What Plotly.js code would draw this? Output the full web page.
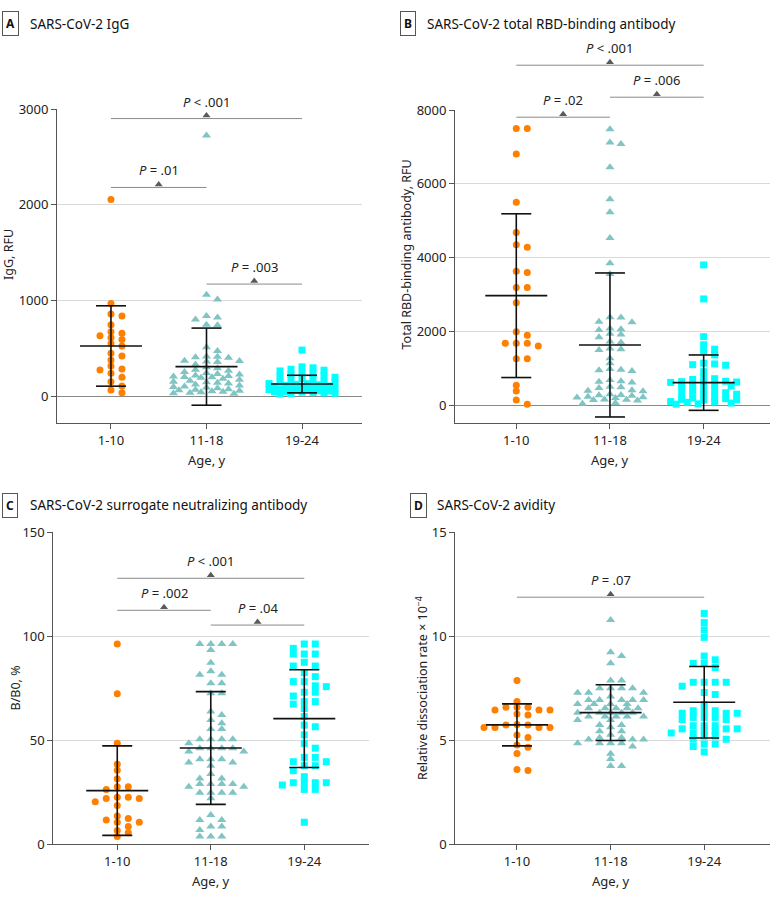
<!DOCTYPE html>
<html>
<head>
<meta charset="utf-8">
<script src="https://cdn.plot.ly/plotly-3.0.1.min.js"></script>
<style>html, body { margin: 0; padding: 0; background: #fff; }</style>
</head>
<body>
<div id="myDiv" style="width:783px;height:900px;"></div>
<script>
const W = 783, H = 900;
const groups = ['1-10', '11-18', '19-24'];

// A: SARS-CoV-2 IgG, RFU
const iggAge1to10 = [2055, 968, 857, 836, 745, 672, 655, 630, 610, 592, 550, 522, 446, 418, 376, 313, 282, 272, 237, 195, 150, 105, 63, 35];
const iggAge11to18 = [2724, 1059, 1010, 836, 820, 801, 745, 740, 509, 470, 413, 410, 405, 400, 369, 365, 360, 355, 330, 300, 290, 275, 265, 250, 240, 230, 225, 215, 210, 205, 200, 195, 190, 180, 170, 160, 150, 145, 140, 130, 120, 110, 100, 95, 90, 80, 70, 65, 60, 55, 50, 45, 40, 35, 30, 25];
const iggAge19to24 = [480, 305, 295, 280, 270, 262, 240, 232, 225, 214, 205, 196, 180, 172, 160, 150, 146, 138, 130, 128, 122, 118, 110, 104, 100, 96, 90, 86, 80, 78, 72, 68, 64, 60, 56, 52, 48, 44, 40, 36, 32, 28, 24, 20];
const iggMean = [523, 307, 125];
const iggSD = [420, 403, 92];
const iggPairs = [[0, 1], [0, 2], [1, 2]];
const iggPLevel = [2180, 2900, 1170];
const iggPText = ['= .01', '< .001', '= .003'];

// B: total RBD-binding antibody, RFU
const rbdAge1to10 = [7496, 7496, 6810, 5501, 4678, 4352, 4282, 3631, 3600, 3188, 3188, 2781, 1995, 1897, 1680, 1680, 1680, 1607, 1263, 1263, 542, 388, 144, 27];
const rbdAge11to18 = [7480, 7117, 7080, 6450, 5582, 5230, 4534, 3848, 3558, 2385, 2380, 2266, 2250, 2080, 2060, 2040, 1940, 1920, 1843, 1730, 1700, 1540, 1520, 1500, 1274, 1138, 980, 960, 950, 930, 686, 650, 640, 620, 500, 490, 470, 410, 396, 380, 300, 280, 270, 260, 230, 220, 210, 200, 160, 150, 140, 130, 60, 40];
const rbdAge19to24 = [3802, 2881, 1860, 1640, 1520, 1480, 1363, 1140, 1120, 1100, 1085, 911, 740, 720, 700, 650, 640, 630, 620, 600, 560, 540, 520, 500, 420, 400, 380, 340, 320, 300, 280, 220, 200, 180, 160, 150, 140, 100, 90, 80, 60, 40, 30];
const rbdMean = [2970, 1634, 613];
const rbdSD = [2218, 1951, 750];
const rbdPairs = [[0, 1], [1, 2], [0, 2]];
const rbdPLevel = [7805, 8347, 9214];
const rbdPText = ['= .02', '= .006', '< .001'];

// C: surrogate neutralizing antibody, B/B0 %
const snabAge1to10 = [96.3, 72.4, 48.6, 38.5, 35.6, 31.5, 27.7, 27.7, 26.4, 22.6, 22.6, 22, 22, 20.4, 18.6, 13.6, 12.4, 11.7, 10.6, 10.6, 8.5, 6.6, 5.6, 3.7];
const snabAge11to18 = [96.3, 96.3, 96.3, 96.3, 93.4, 87.3, 83.2, 81.5, 81.5, 77.4, 77.4, 72.6, 72.6, 63.8, 62.2, 59.8, 58.2, 55.4, 55.4, 50.5, 50.5, 50.5, 50.5, 48.6, 46.2, 46.2, 46.2, 46.2, 44.6, 44.6, 40.9, 40.9, 40.9, 39.3, 39.3, 37.8, 33.8, 31.6, 31.6, 29, 29, 29, 29, 27.7, 27.7, 24.8, 24.8, 24.8, 24.8, 22.1, 14.1, 11.7, 11.7, 8.5, 8.5, 6.9, 3.7, 3.7, 3.7];
const snabAge19to24 = [96.3, 96.3, 94.2, 91.5, 91.5, 91.5, 87.5, 85.7, 85.7, 82.5, 80.6, 78.2, 78.2, 76.2, 75.8, 73.1, 73.1, 71.3, 68.6, 68.6, 67.4, 65.3, 61.4, 57.3, 56.5, 52.6, 48.5, 46.2, 41.8, 41.8, 39.7, 39.7, 37.8, 37.8, 35.4, 32.5, 29.6, 29.6, 29.6, 29.6, 28.5, 26.4, 26.4, 10.6];
const snabMean = [25.8, 46.3, 60.4];
const snabSD = [21.5, 27.1, 23.5];
const snabPairs = [[0, 2], [0, 1], [1, 2]];
const snabPLevel = [127.9, 112.5, 105.4];
const snabPText = ['< .001', '= .002', '= .04'];

// D: avidity, relative dissociation rate x 10^-4
const avidAge1to10 = [7.87, 6.86, 6.59, 6.59, 6.59, 6.46, 6.46, 6.46, 6.26, 6.22, 5.76, 5.74, 5.74, 5.61, 5.61, 5.61, 5.61, 5.25, 5.14, 4.77, 4.66, 4.37, 3.6, 3.55];
const avidAge11to18 = [10.78, 9.23, 9.05, 8.7, 7.87, 7.87, 7.5, 7.5, 7.5, 7.5, 7.29, 7.29, 7.29, 7.1, 6.94, 6.94, 6.94, 6.94, 6.94, 6.75, 6.75, 6.75, 6.75, 6.54, 6.54, 6.54, 6.54, 6.54, 6.33, 6.33, 6.33, 6.33, 6.33, 6.14, 6.14, 6.14, 6.14, 6.14, 5.98, 5.98, 5.74, 5.74, 5.63, 5.43, 5.43, 5.27, 5.12, 5.12, 5.04, 5.04, 5.04, 4.86, 4.86, 4.86, 4.86, 4.7, 4.35, 4.1, 3.77, 3.77];
const avidAge19to24 = [11.1, 10.66, 10.31, 9.95, 9.05, 8.87, 8.7, 8.7, 8.5, 7.79, 7.79, 7.79, 7.79, 7.6, 7.3, 7.2, 6.72, 6.42, 6.42, 6.42, 6.3, 6.3, 6.3, 6.1, 6.1, 6.1, 6.0, 6.0, 5.7, 5.7, 5.7, 5.55, 5.55, 5.55, 5.45, 5.45, 5.35, 5.35, 5.2, 5.2, 5.05, 5.05, 4.82, 4.82, 4.7, 4.44];
const avidMean = [5.74, 6.33, 6.83];
const avidSD = [1.01, 1.34, 1.72];
const avidPairs = [[0, 2]];
const avidPLevel = [11.88];
const avidPText = ['= .07'];

const FONT = 'Noto Sans, DejaVu Sans, sans-serif';
const markerStyles = [
  { symbol: 'circle', color: '#FF7F00', size: 7 },
  { symbol: 'triangle-up', color: '#80C4C4', size: 8 },
  { symbol: 'square', color: '#00FFFF', size: 7 },
];

// panel layout (pixel boxes of the plot areas)
const panels = [
  { letter: 'A', title: 'SARS-CoV-2 IgG', ytitle: 'IgG, RFU',
    series: [iggAge1to10, iggAge11to18, iggAge19to24], mean: iggMean, sd: iggSD,
    pairs: iggPairs, pLevel: iggPLevel, pText: iggPText,
    box: [57, 362, 109, 423], xr: [-0.565, 2.628], yr: [-282, 3000], dtick: 1000, zero: true,
    letterX: 10, titleX: 28, titleY: 24, ytX: 8, ytY: 255, xtY: 460 },
  { letter: 'B', title: 'SARS-CoV-2 total RBD-binding antibody', ytitle: 'Total RBD-binding antibody, RFU',
    series: [rbdAge1to10, rbdAge11to18, rbdAge19to24], mean: rbdMean, sd: rbdSD,
    pairs: rbdPairs, pLevel: rbdPLevel, pText: rbdPText,
    box: [455, 770, 110, 423], xr: [-0.654, 2.708], yr: [-480, 8000], dtick: 2000, zero: true,
    letterX: 407.5, titleX: 425, titleY: 24, ytX: 405.5, ytY: 255, xtY: 460 },
  { letter: 'C', title: 'SARS-CoV-2 surrogate neutralizing antibody', ytitle: 'B/B0, %',
    series: [snabAge1to10, snabAge11to18, snabAge19to24], mean: snabMean, sd: snabSD,
    pairs: snabPairs, pLevel: snabPLevel, pText: snabPText,
    box: [53.3, 369, 532.3, 844.3], xr: [-0.684, 2.692], yr: [0, 150], dtick: 50, zero: false,
    letterX: 10, titleX: 28, titleY: 505, ytX: 14.5, ytY: 688, xtY: 881 },
  { letter: 'D', title: 'SARS-CoV-2 avidity', ytitle: 'Relative dissociation rate × 10<sup>−4</sup>',
    series: [avidAge1to10, avidAge11to18, avidAge19to24], mean: avidMean, sd: avidSD,
    pairs: avidPairs, pLevel: avidPLevel, pText: avidPText,
    box: [455.3, 770.3, 532.3, 844.3], xr: [-0.659, 2.706], yr: [0, 15], dtick: 5, zero: false,
    letterX: 418, titleX: 435, titleY: 505, ytX: 422, ytY: 688, xtY: 881 },
];

// greedy beeswarm in pixel space, kept within +-33 px of the category centre
function swarm(vals, center, pxPerX, pxPerY) {
  const col = 11, rowGap = 5, maxK = 12;
  const sorted = vals.slice().sort((a, b) => b - a);
  const placed = [];
  const xs = [], ys = [];
  sorted.forEach(v => {
    const py = v * pxPerY;
    let off = null, best = -1, bestOff = 0;
    for (let k = 0; k <= maxK; k++) {
      const cand = (k % 2 === 1 ? 1 : -1) * Math.ceil(k / 2) * col / 2;
      const hit = placed.some(q => Math.abs(q[0] - cand) < col * 0.95 && Math.abs(q[1] - py) < rowGap);
      if (!hit) { off = cand; break; }
      let dmin = Infinity;
      placed.forEach(q => { dmin = Math.min(dmin, Math.hypot(q[0] - cand, (q[1] - py) * 1.6)); });
      if (dmin > best) { best = dmin; bestOff = cand; }
    }
    if (off === null) off = bestOff;
    placed.push([off, py]);
    xs.push(center + off / pxPerX);
    ys.push(v);
  });
  return { xs, ys };
}

const data = [];
const layout = {
  width: W, height: H,
  margin: { l: 0, r: 0, t: 0, b: 0 },
  paper_bgcolor: '#fff', plot_bgcolor: 'rgba(0,0,0,0)',
  showlegend: false,
  font: { family: FONT, color: '#222', size: 12 },
  annotations: [],
};

panels.forEach((p, n) => {
  const s = n === 0 ? '' : String(n + 1);
  const o = String(n + 5); // overlay axes for brackets above the plot area
  const [x0, x1, yTop, yBot] = p.box;
  const xd = [x0 / W, x1 / W];
  const yd = [1 - yBot / H, 1 - yTop / H];
  const pxPerX = (x1 - x0) / (p.xr[1] - p.xr[0]);
  const pxPerY = (yBot - yTop) / (p.yr[1] - p.yr[0]);

  layout['xaxis' + s] = {
    domain: xd, range: p.xr, anchor: 'y' + s,
    tickvals: [0, 1, 2], ticktext: groups,
    showline: true, linecolor: '#555', linewidth: 1,
    ticks: 'outside', ticklen: 5, tickcolor: '#555',
    showgrid: false, zeroline: false,
    tickfont: { size: 13, color: '#222' }, fixedrange: true,
  };
  layout['yaxis' + s] = {
    domain: yd, range: p.yr, anchor: 'x' + s,
    tick0: 0, dtick: p.dtick,
    showline: true, linecolor: '#555', linewidth: 1,
    ticks: 'outside', ticklen: 5, tickcolor: '#555',
    showgrid: true, gridcolor: '#d9d9d9', gridwidth: 1,
    zeroline: p.zero, zerolinecolor: '#8a8a8a', zerolinewidth: 1,
    tickfont: { size: 13, color: '#222' }, fixedrange: true,
  };
  // overlay with same scale, extended upward
  const extTop = 1 - (yTop - 75) / H;
  layout['xaxis' + o] = { domain: xd, range: p.xr, anchor: 'y' + o, visible: false, fixedrange: true };
  layout['yaxis' + o] = {
    domain: [yd[0], extTop], anchor: 'x' + o, visible: false, fixedrange: true,
    range: [p.yr[0], p.yr[0] + (p.yr[1] - p.yr[0]) * (extTop - yd[0]) / (yd[1] - yd[0])],
  };

  // points
  p.series.forEach((vals, g) => {
    const sw = swarm(vals, g, pxPerX, pxPerY);
    data.push({
      x: sw.xs, y: sw.ys, xaxis: 'x' + s, yaxis: 'y' + s,
      type: 'scatter', mode: 'markers', cliponaxis: false,
      marker: { symbol: markerStyles[g].symbol, color: markerStyles[g].color, size: markerStyles[g].size, line: { width: 0 } },
      hoverinfo: 'y',
    });
  });

  // mean and SD bars
  const ex = [], ey = [];
  const hw = 31 / pxPerX, cw = 15 / pxPerX;
  p.mean.forEach((m, g) => {
    const lo = m - p.sd[g], hi = m + p.sd[g];
    ex.push(g - hw, g + hw, null, g, g, null, g - cw, g + cw, null, g - cw, g + cw, null);
    ey.push(m, m, null, lo, hi, null, lo, lo, null, hi, hi, null);
  });
  data.push({
    x: ex, y: ey, xaxis: 'x' + s, yaxis: 'y' + s,
    type: 'scatter', mode: 'lines', line: { color: '#111', width: 1.6 }, hoverinfo: 'skip',
  });

  // significance brackets
  const bx = [], by = [], tx = [], ty = [];
  p.pairs.forEach(([a, b], k) => {
    const h = p.pLevel[k];
    bx.push(a, b, null);
    by.push(h, h, null);
    tx.push((a + b) / 2);
    ty.push(h + 3 / pxPerY);
    layout.annotations.push({
      xref: 'x' + o, yref: 'y' + o, x: (a + b) / 2, y: h,
      text: '<i>P</i> ' + p.pText[k].replace('<', '&lt;'),
      showarrow: false, xanchor: 'center', yanchor: 'bottom', yshift: 6,
      font: { size: 13, color: '#222' },
    });
  });
  data.push({
    x: bx, y: by, xaxis: 'x' + o, yaxis: 'y' + o,
    type: 'scatter', mode: 'lines', line: { color: '#8a8a8a', width: 1 }, hoverinfo: 'skip',
  });
  data.push({
    x: tx, y: ty, xaxis: 'x' + o, yaxis: 'y' + o,
    type: 'scatter', mode: 'markers', cliponaxis: false,
    marker: { symbol: 'triangle-up', color: '#5a5a5a', size: 7 }, hoverinfo: 'skip',
  });

  // panel letter box and title
  layout.annotations.push({
    xref: 'paper', yref: 'paper', x: p.letterX / W, y: 1 - p.titleY / H,
    text: '<b>' + p.letter + '</b>', showarrow: false, xanchor: 'center', yanchor: 'middle',
    font: { size: 12, color: '#111' }, bordercolor: '#555', borderwidth: 1, borderpad: 3, bgcolor: '#fff',
  });
  layout.annotations.push({
    xref: 'paper', yref: 'paper', x: p.titleX / W, y: 1 - p.titleY / H,
    text: p.title, showarrow: false, xanchor: 'left', yanchor: 'middle',
    font: { size: 13.5, color: '#111' },
  });
  // axis titles
  layout.annotations.push({
    xref: 'paper', yref: 'paper', x: p.ytX / W, y: 1 - p.ytY / H,
    text: p.ytitle, showarrow: false, textangle: -90, xanchor: 'center', yanchor: 'middle',
    font: { size: 12.5, color: '#222' },
  });
  layout.annotations.push({
    xref: 'x' + s, yref: 'paper', x: 1, y: 1 - p.xtY / H,
    text: 'Age, y', showarrow: false, xanchor: 'center', yanchor: 'middle',
    font: { size: 13, color: '#222' },
  });
});

Plotly.newPlot('myDiv', data, layout, { staticPlot: true, displayModeBar: false });
</script>
</body>
</html>
